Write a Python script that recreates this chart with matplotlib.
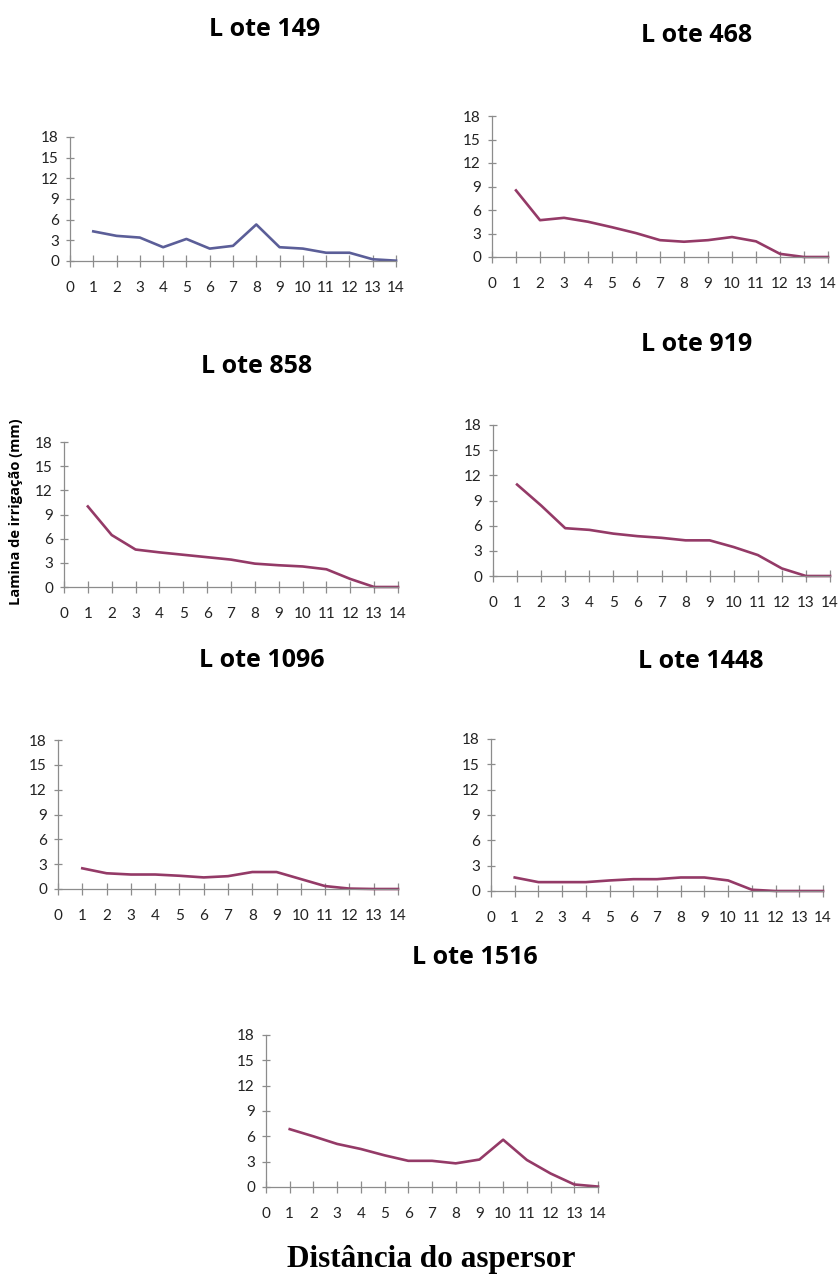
import matplotlib.pyplot as plt

W, H = 838, 1275

dist = list(range(1, 15))

lote_149 = [4.3, 3.65, 3.4, 2.0, 3.2, 1.8, 2.2, 5.3, 2.0, 1.8, 1.2, 1.2, 0.25, 0.05]
lote_468 = [8.5, 4.7, 5.0, 4.5, 3.8, 3.05, 2.15, 1.95, 2.15, 2.55, 2.0, 0.4, 0.0, 0.0]
lote_858 = [10.0, 6.45, 4.65, 4.3, 4.0, 3.7, 3.4, 2.9, 2.7, 2.55, 2.2, 1.0, 0.0, 0.0]
lote_919 = [10.9, 8.4, 5.7, 5.5, 5.05, 4.75, 4.55, 4.25, 4.25, 3.45, 2.5, 0.9, 0.0, 0.0]
lote_1096 = [2.5, 1.9, 1.75, 1.75, 1.6, 1.4, 1.55, 2.05, 2.05, 1.2, 0.35, 0.05, 0.0, 0.0]
lote_1448 = [1.6, 1.05, 1.05, 1.05, 1.25, 1.4, 1.4, 1.6, 1.6, 1.25, 0.15, 0.0, 0.0, 0.0]
lote_1516 = [6.85, 6.0, 5.1, 4.5, 3.75, 3.1, 3.1, 2.8, 3.25, 5.6, 3.2, 1.6, 0.3, 0.05]

# titulo, dados, cor, (x0, x14, y0, y18) em pixels, posição do título
paineis = [
    ("L ote 149", lote_149, "#5b5e98", (70, 396, 261, 137), (265, 30)),
    ("L ote 468", lote_468, "#943a67", (492, 828, 257, 116), (697, 35)),
    ("L ote 858", lote_858, "#943a67", (64, 398, 587, 442), (257, 366)),
    ("L ote 919", lote_919, "#943a67", (493, 830, 576, 425), (697, 345)),
    ("L ote 1096", lote_1096, "#943a67", (58, 398, 889, 740), (262, 660)),
    ("L ote 1448", lote_1448, "#943a67", (491, 823, 891, 739), (701, 662)),
    ("L ote 1516", lote_1516, "#943a67", (266, 598, 1187, 1035), (475, 957)),
]

fig = plt.figure(figsize=(W / 100, H / 100), dpi=100)

for titulo, vals, cor, (x0, x1, y0, y1), (tx, ty) in paineis:
    ax = fig.add_axes([x0 / W, 1 - y0 / H, (x1 - x0) / W, (y0 - y1) / H])
    ax.plot(dist, vals, color=cor, lw=1.9, solid_joinstyle='round', clip_on=False)
    ax.set_xlim(0, 14)
    ax.set_ylim(0, 18)
    ax.set_xticks(range(0, 15))
    ax.set_yticks(range(0, 19, 3))
    for s in ['top', 'right']:
        ax.spines[s].set_visible(False)
    for s in ['left', 'bottom']:
        ax.spines[s].set_color('#8c8c8c')
        ax.spines[s].set_linewidth(0.9)
    ax.tick_params(axis='x', direction='inout', length=9, width=0.9, color='#8c8c8c',
                   pad=10, labelsize=11, labelcolor='#222222')
    ax.tick_params(axis='y', direction='inout', length=6, width=0.9, color='#8c8c8c',
                   pad=5, labelsize=11, labelcolor='#222222')
    for lb in ax.get_xticklabels() + ax.get_yticklabels():
        lb.set_fontfamily('Lato')
    ax.patch.set_visible(False)
    fig.text(tx / W, 1 - ty / H, titulo, ha='center', va='center',
             fontsize=18, fontweight='bold', family='Open Sans')

fig.text(16 / W, 1 - 512 / H, "Lamina de irrigação (mm)", rotation=90,
         ha='center', va='center', fontsize=10.5, fontweight='bold', family='Open Sans')
fig.text(431 / W, 1 - 1267 / H, "Distância do aspersor", ha='center', va='baseline',
         fontsize=22.5, fontweight='bold', family='Liberation Serif')

plt.savefig('out.png', dpi=100)
